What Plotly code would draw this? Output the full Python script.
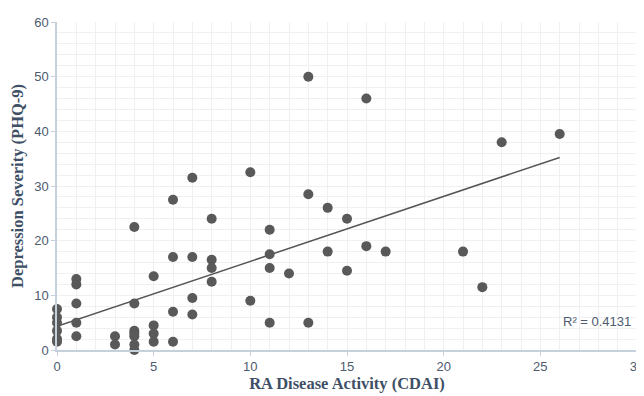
import numpy as np
import plotly.graph_objects as go

# RA disease activity (CDAI) and depression severity (PHQ-9)
cdai = [0, 0, 0, 0, 0, 0,
        1, 1, 1, 1, 1,
        3, 3,
        4, 4, 4, 4, 4, 4, 4,
        5, 5, 5, 5,
        6, 6, 6, 6,
        7, 7, 7, 7,
        8, 8, 8, 8,
        10, 10,
        11, 11, 11, 11,
        12,
        13, 13, 13,
        14, 14,
        15, 15,
        16, 16,
        17,
        21, 22, 23, 26]
phq9 = [7.5, 6, 5, 3.5, 2, 1.5,
        13, 12, 8.5, 5, 2.5,
        2.5, 1,
        22.5, 8.5, 3.5, 3, 2.5, 1, 0,
        13.5, 4.5, 3, 1.5,
        27.5, 17, 7, 1.5,
        31.5, 17, 9.5, 6.5,
        24, 16.5, 15, 12.5,
        32.5, 9,
        22, 17.5, 15, 5,
        14,
        50, 28.5, 5,
        26, 18,
        24, 14.5,
        46, 19,
        18,
        18, 11.5, 38, 39.5]
r2_label = "R² = 0.4131"
x_title = "RA Disease Activity (CDAI)"
y_title = "Depression Severity (PHQ-9)"

x = np.array(cdai, dtype=float)
y = np.array(phq9, dtype=float)
slope, intercept = np.polyfit(x, y, 1)
xl = np.array([x.min(), x.max()])
yl = slope * xl + intercept

fig = go.Figure()
fig.add_trace(go.Scatter(x=xl, y=yl, mode="lines",
                         line=dict(color="#555555", width=1.5),
                         hoverinfo="skip", showlegend=False))
fig.add_trace(go.Scatter(x=cdai, y=phq9, mode="markers",
                         marker=dict(color="#595959", size=10),
                         showlegend=False, cliponaxis=False))

fig.add_annotation(x=29.8, y=5.2, text=r2_label, showarrow=False,
                   xanchor="right", yanchor="middle",
                   font=dict(family="Liberation Sans, Arial", size=13, color="#4d5b70"))

axis_common = dict(
    showgrid=True, gridcolor="#eef0f3", gridwidth=1,
    showline=True, linecolor="#c6cfdc", linewidth=1.5,
    ticks="outside", ticklen=4, tickcolor="#c6cfdc",
    tickfont=dict(family="Liberation Sans, Arial", size=13, color="#4d5b70"),
    ticklabeloverflow="allow",
    zeroline=False, automargin=False,
)

fig.update_layout(
    width=636, height=388,
    margin=dict(l=49, r=7, t=14, b=46),
    paper_bgcolor="white", plot_bgcolor="white",
    xaxis=dict(range=[0, 30], tick0=0, dtick=5,
               minor=dict(dtick=1, showgrid=True, gridcolor="#eef0f3"),
               title=dict(text=x_title, standoff=3,
                          font=dict(family="Liberation Serif, Times New Roman", size=16.5,
                                    color="#3e4f66", weight="bold")),
               **axis_common),
    yaxis=dict(range=[0, 60], tick0=0, dtick=10,
               minor=dict(dtick=2, showgrid=True, gridcolor="#eef0f3"),
               title=dict(text=y_title, standoff=8,
                          font=dict(family="Liberation Serif, Times New Roman", size=16.5,
                                    color="#3e4f66", weight="bold")),
               **axis_common),
)

fig.write_html("out.html")
